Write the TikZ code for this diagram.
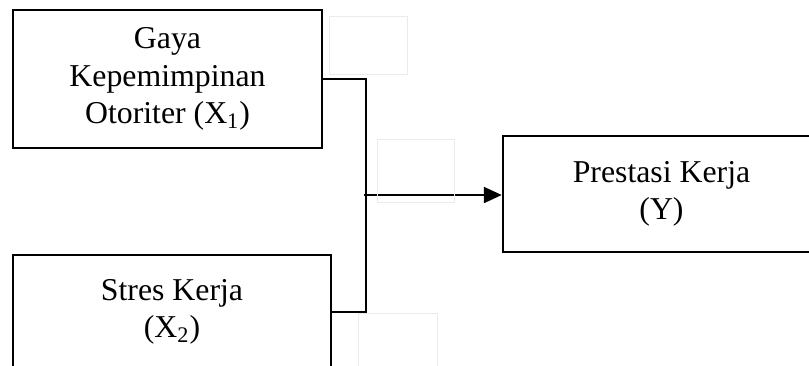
\documentclass[tikz,border=0pt]{standalone}
\usepackage{fontspec}
\setmainfont{Liberation Serif}
\usetikzlibrary{arrows.meta}
\begin{document}
\begin{tikzpicture}[x=0.5pt,y=-0.5pt,
  varbox/.style={draw,line width=1.2pt,align=center,inner sep=0pt,
    font=\fontsize{15.9}{18.6}\selectfont},
  link/.style={line width=1.1pt},
  faint/.style={draw=black!8,line width=0.5pt}]
\useasboundingbox(0,0)rectangle(809,365);
\clip(0,0)rectangle(809,365);
\node[varbox,minimum width=154.5pt,minimum height=69pt](x1)at(167.5,79){Gaya\\Kepemimpinan\\Otoriter (X\textsubscript{1})};
\node[varbox,minimum width=159pt,minimum height=57pt](x2)at(172,312){Stres Kerja\\(X\textsubscript{2})};
\node[varbox,minimum width=158.5pt,minimum height=58pt](y)at(661.5,194){Prestasi Kerja\\(Y)};
\coordinate(mid)at(366,195);
\draw[link](x1.east)-|(mid)|-(x2.east);
\draw[link,-{Triangle[length=9pt,width=8pt]}]([xshift=-1pt]mid)--(mid-|y.west);
% empty text frames
\draw[faint](329,16)rectangle(407,74);
\draw[faint](377,139)rectangle(454,202);
\draw[faint](358,313)rectangle(437,366);
\end{tikzpicture}
\end{document}
